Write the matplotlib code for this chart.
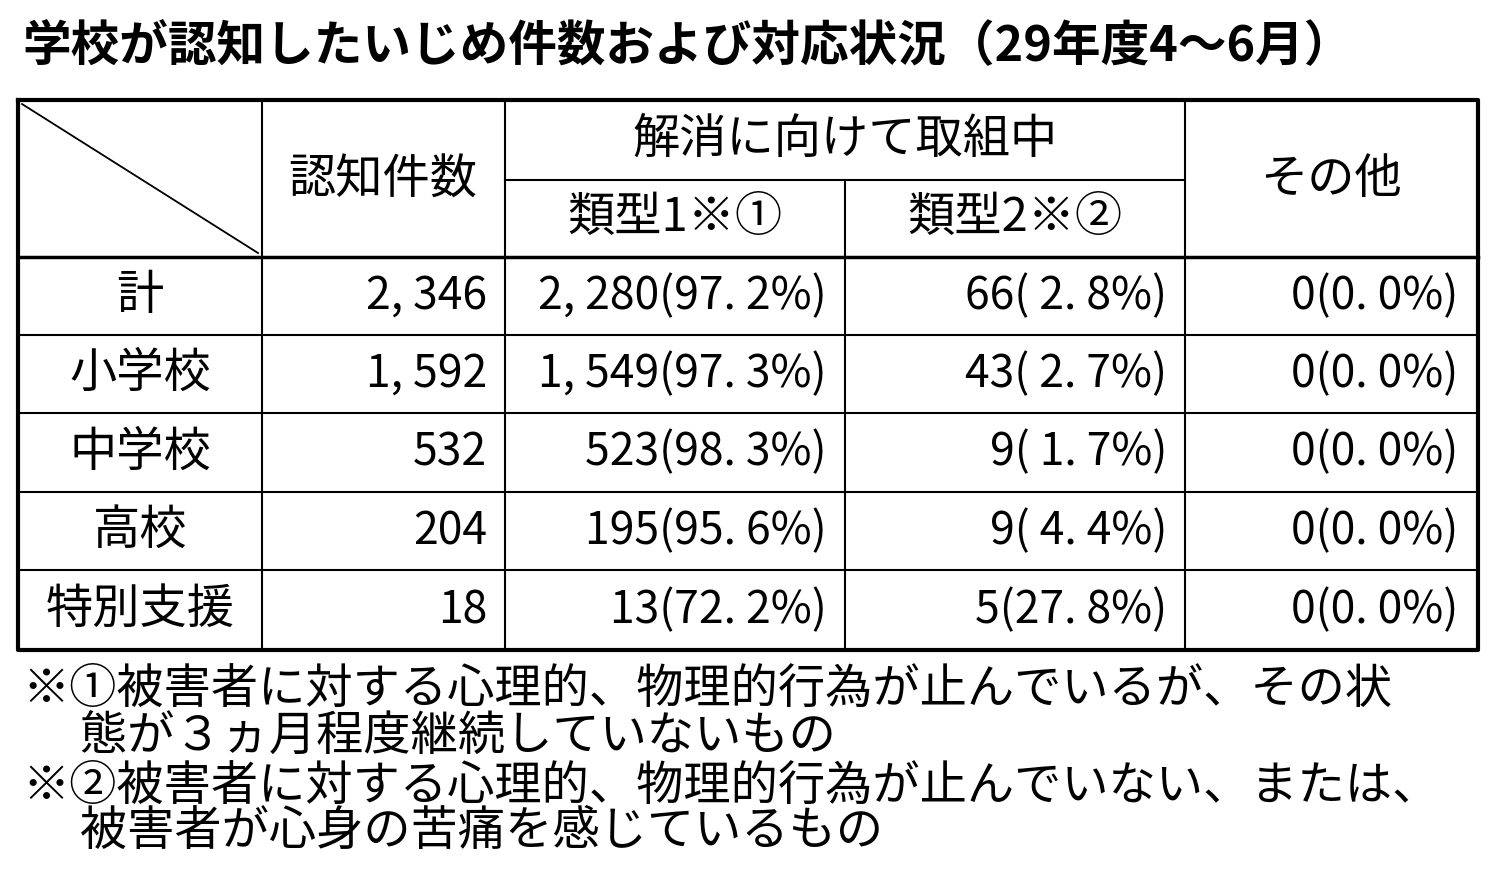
import matplotlib
matplotlib.use("Agg")
import matplotlib.pyplot as plt

plt.rcParams['font.family'] = ['Noto Sans CJK JP', 'DejaVu Sans']

title = "学校が認知したいじめ件数および対応状況（29年度4～6月）"
rows = ["計", "小学校", "中学校", "高校", "特別支援"]
counts = ["2, 346", "1, 592", "532", "204", "18"]
type1 = ["2, 280", "1, 549", "523", "195", "13"]
type1_pct = ["97. 2", "97. 3", "98. 3", "95. 6", "72. 2"]
type2 = ["66", "43", "9", "9", "5"]
type2_pct = [" 2. 8", " 2. 7", " 1. 7", " 4. 4", "27. 8"]
other = ["0", "0", "0", "0", "0"]
other_pct = ["0. 0", "0. 0", "0. 0", "0. 0", "0. 0"]
notes = ["※①被害者に対する心理的、物理的行為が止んでいるが、その状",
         "　 態が３ヵ月程度継続していないもの",
         "※②被害者に対する心理的、物理的行為が止んでいない、または、",
         "　 被害者が心身の苦痛を感じているもの"]

fig = plt.figure(figsize=(15, 8.71), dpi=100)
ax = fig.add_axes([0, 0, 1, 1])
ax.set_xlim(0, 1500); ax.set_ylim(871, 0); ax.axis('off')

ax.text(22, 47, title, fontsize=35, fontweight='bold', va='center', ha='left')

L, R, T, B = 18, 1478, 100, 650
cols = [262, 505, 845, 1185]
hb = 257
rb = [335, 413, 492, 570]
k = 'black'
ax.plot([L, R, R, L, L], [T, T, B, B, T], color=k, lw=3)
for c in cols:
    ax.plot([c, c], [T if c != 845 else 180, B], color=k, lw=1.5)
ax.plot([505, 1185], [180, 180], color=k, lw=1.5)
ax.plot([L, R], [hb, hb], color=k, lw=2.5)
for y in rb:
    ax.plot([L, R], [y, y], color=k, lw=1.5)
ax.plot([22, 258], [104, 253], color=k, lw=1.3)

fj = 34
fn = 32
ax.text(383, 180, "認知件数", fontsize=fj, ha='center', va='center')
ax.text(845, 140, "解消に向けて取組中", fontsize=fj, ha='center', va='center')
ax.text(675, 218, "類型1※①", fontsize=fj, ha='center', va='center')
ax.text(1015, 218, "類型2※②", fontsize=fj, ha='center', va='center')
ax.text(1331, 180, "その他", fontsize=fj, ha='center', va='center')

ys = [hb] + rb + [B]
for i, r in enumerate(rows):
    y = (ys[i] + ys[i + 1]) / 2
    ax.text(140, y, r, fontsize=fj, ha='center', va='center')
    ax.text(487, y, counts[i], fontsize=fn, ha='right', va='center')
    ax.text(827, y, f"{type1[i]}({type1_pct[i]}%)", fontsize=fn, ha='right', va='center')
    ax.text(1167, y, f"{type2[i]}({type2_pct[i]}%)", fontsize=fn, ha='right', va='center')
    ax.text(1458, y, f"{other[i]}({other_pct[i]}%)", fontsize=fn, ha='right', va='center')

for j, (n, y) in enumerate(zip(notes, [690, 738, 787, 832])):
    ax.text(22, y, n, fontsize=34, ha='left', va='center')

fig.savefig("out.png", dpi=100)
